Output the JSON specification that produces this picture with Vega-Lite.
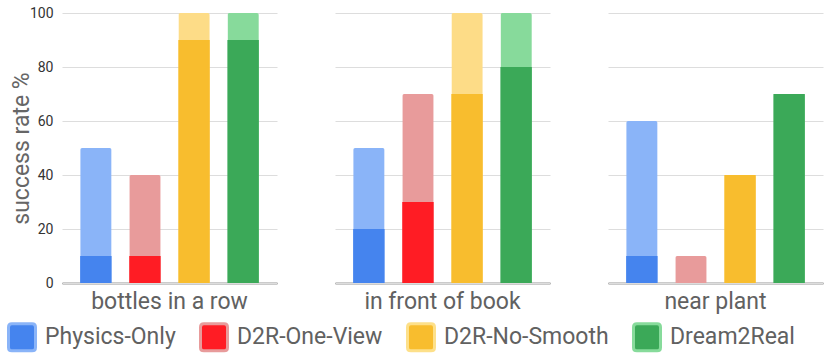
{
  "$schema": "https://vega.github.io/schema/vega-lite/v6.json",
  "padding": {"left": 7, "top": 6, "right": 5, "bottom": 0},
  "data": {"values": [
    {"scene": "bottles in a row", "method": "Physics-Only", "dark": 10, "total": 50},
    {"scene": "bottles in a row", "method": "D2R-One-View", "dark": 10, "total": 40},
    {"scene": "bottles in a row", "method": "D2R-No-Smooth", "dark": 90, "total": 100},
    {"scene": "bottles in a row", "method": "Dream2Real", "dark": 90, "total": 100},
    {"scene": "in front of book", "method": "Physics-Only", "dark": 20, "total": 50},
    {"scene": "in front of book", "method": "D2R-One-View", "dark": 30, "total": 70},
    {"scene": "in front of book", "method": "D2R-No-Smooth", "dark": 70, "total": 100},
    {"scene": "in front of book", "method": "Dream2Real", "dark": 80, "total": 100},
    {"scene": "near plant", "method": "Physics-Only", "dark": 10, "total": 60},
    {"scene": "near plant", "method": "D2R-One-View", "dark": 0, "total": 10},
    {"scene": "near plant", "method": "D2R-No-Smooth", "dark": 40, "total": 40},
    {"scene": "near plant", "method": "Dream2Real", "dark": 70, "total": 70}
  ]},
  "facet": {
    "column": {
      "field": "scene", "type": "nominal",
      "sort": ["bottles in a row", "in front of book", "near plant"],
      "header": {"title": null, "labelOrient": "bottom", "labelFontSize": 23, "labelColor": "#616161", "labelFont": "Roboto", "labelPadding": 8}
    }
  },
  "spacing": 58,
  "spec": {
    "width": 215,
    "height": 270,
    "encoding": {
      "x": {
        "field": "method", "type": "nominal",
        "sort": ["Physics-Only", "D2R-One-View", "D2R-No-Smooth", "Dream2Real"],
        "scale": {"paddingInner": 0.36, "paddingOuter": 0.37},
        "axis": {"labels": false, "ticks": false, "title": null, "domainColor": "#333333", "domainWidth": 1.5, "zindex": 1}
      }
    },
    "layer": [
      {
        "mark": {"type": "bar", "cornerRadiusTopLeft": 2, "cornerRadiusTopRight": 2},
        "encoding": {
          "y": {
            "field": "total", "type": "quantitative",
            "scale": {"domain": [0, 100]},
            "axis": {"values": [0, 20, 40, 60, 80, 100], "title": "success rate %", "titleFontSize": 23, "titleFontWeight": "normal", "titleColor": "#666666", "titlePadding": -4, "labelFontSize": 14, "labelColor": "#333333", "labelPadding": 9, "ticks": false, "domain": false, "gridColor": "#dddddd", "gridWidth": 1}
          },
          "color": {
            "field": "method", "type": "nominal",
            "scale": {"domain": ["Dream2Real", "D2R-No-Smooth", "D2R-One-View", "Physics-Only"], "range": ["#87DA9B", "#FDDC87", "#E89B9B", "#8AB4F8"]},
            "legend": null
          }
        }
      },
      {
        "mark": {"type": "bar", "strokeWidth": 0},
        "encoding": {
          "y": {"field": "dark", "type": "quantitative"},
          "fill": {
            "field": "method", "type": "nominal",
            "scale": {"domain": ["Physics-Only", "D2R-One-View", "D2R-No-Smooth", "Dream2Real"], "range": ["#4584EE", "#FF1C24", "#F8BD2E", "#3BA958"]},
            "legend": {"orient": "none", "legendX": -55, "legendY": 309, "direction": "horizontal", "title": null, "symbolType": "M -0.75 -1 L 0.75 -1 Q 1 -1 1 -0.75 L 1 0.75 Q 1 1 0.75 1 L -0.75 1 Q -1 1 -1 0.75 L -1 -0.75 Q -1 -1 -0.75 -1 Z", "symbolSize": 729, "symbolStrokeWidth": 3, "labelFontSize": 23, "labelColor": "#616161", "labelOffset": 8, "labelLimit": 400, "columnPadding": 18}
          },
          "stroke": {
            "field": "method", "type": "nominal",
            "scale": {"domain": ["Physics-Only", "D2R-One-View", "D2R-No-Smooth", "Dream2Real"], "range": ["#8AB4F8", "#E89B9B", "#FDE08A", "#87DB9B"]},
            "legend": {"orient": "none", "legendX": -55, "legendY": 309, "direction": "horizontal", "title": null, "symbolType": "M -0.75 -1 L 0.75 -1 Q 1 -1 1 -0.75 L 1 0.75 Q 1 1 0.75 1 L -0.75 1 Q -1 1 -1 0.75 L -1 -0.75 Q -1 -1 -0.75 -1 Z", "symbolSize": 729, "symbolStrokeWidth": 3, "labelFontSize": 23, "labelColor": "#616161", "labelOffset": 8, "labelLimit": 400, "columnPadding": 18}
          }
        }
      }
    ]
  },
  "config": {"view": {"stroke": null}, "font": "Roboto"}
}
